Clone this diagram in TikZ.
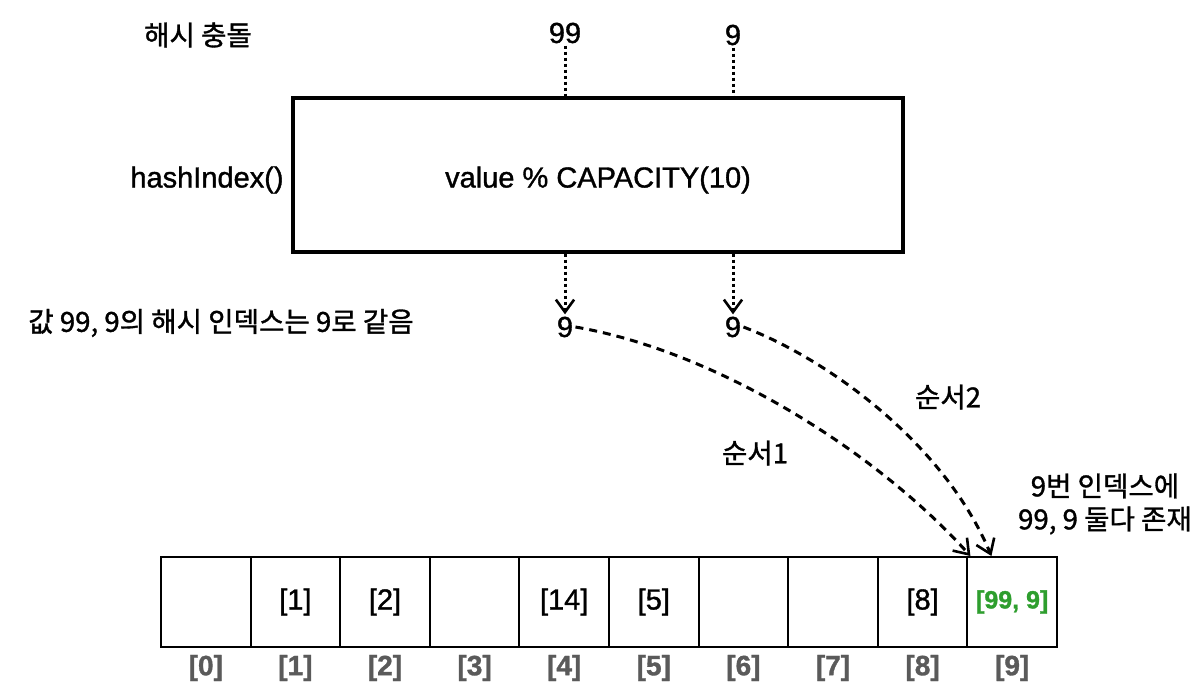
\documentclass[tikz,border=0pt]{standalone}
\usepackage{fontspec}
\setmainfont[FakeBold=1.2]{Liberation Sans}
\newfontfamily\kr[FakeBold=1.2]{Noto Sans CJK KR}
\usetikzlibrary{arrows.meta, positioning, calc}
\definecolor{cgreen}{HTML}{2E9E2E}
\definecolor{cgrey}{HTML}{5A5A5A}
\tikzset{
  every picture/.style={font=\fontsize{14.5}{16}\selectfont},
  lbl/.style={inner sep=1pt, align=center},
  klbl/.style={lbl, font=\fontsize{13.8}{16.5}\selectfont\kr},
  cell/.style={draw, line width=1pt, minimum width=44.8pt, minimum height=45pt, inner sep=0pt},
  idx/.style={font=\fontsize{14}{16}\selectfont\bfseries, text=cgrey},
  dotline/.style={line width=1.5pt, dash pattern=on 1.5pt off 1.5pt},
  dashline/.style={line width=1.5pt, dash pattern=on 4pt off 3pt, -{Straight Barb[length=2.4mm, width=3.4mm, line width=1.3pt]}},
}

\begin{document}
\begin{tikzpicture}[x=0.5pt, y=-0.5pt]
  \useasboundingbox (0,0) rectangle (1204,696);
  % hash function
  \node[klbl] (title) at (198,35) {해시 충돌};
  \node[draw, line width=1.6pt, minimum width=305pt, minimum height=77pt] (hash) at (598,175) {};
  \node[lbl] (expr) at (598,180) {value \% CAPACITY(10)};
  \node[lbl] (fname) at (207,180) {hashIndex()};
  \node[lbl] (k99) at (565,33) {99};
  \node[lbl] (k9) at (733,35) {9};
  \draw[dotline] (k99.south) -- (k99 |- hash.north);
  \draw[dotline] (k9.south) -- (k9 |- hash.north);
  % hash results
  \node[lbl] (h1) at (565,327) {9};
  \node[lbl] (h2) at (733,327) {9};
  \node[klbl] (same) at (221,323) {값 99, 9의 해시 인덱스는 9로 같음};
  \draw[dotline, -{Straight Barb[length=2.2mm, width=3.2mm, line width=1.3pt]}] (h1 |- hash.south) -- (h1.north);
  \draw[dotline, -{Straight Barb[length=2.2mm, width=3.2mm, line width=1.3pt]}] (h2 |- hash.south) -- (h2.north);
  % array
  \foreach \i/\t in {0/{}, 1/[1], 2/[2], 3/{}, 4/[14], 5/[5], 6/{}, 7/{}, 8/[8]} {
    \node[cell] (c\i) at ({205.8+89.6*\i},602) {\t};
    \node[idx] (i\i) at ({205.8+89.6*\i},668) {[\i]};
  }
  \node[cell, text=cgreen, font=\fontsize{12.5}{14}\selectfont\bfseries] (c9) at ({205.8+89.6*9},602) {[99, 9]};
  \node[idx] (i9) at ({205.8+89.6*9},668) {[9]};
  \coordinate (t1) at ($(c9.north west)+(4,0)$);
  \coordinate (t2) at ($(c9.north west)+(25,0)$);
  \draw[dashline] (h1.east) .. controls (720,352) and (880,455) .. (t1);
  \draw[dashline] (h2.east) .. controls (830,360) and (945,445) .. (t2);
  \node[klbl] (ord1) at (755,453) {순서1};
  \node[klbl] (ord2) at (948,397) {순서2};
  \node[klbl] (both) at (1105,504) {9번 인덱스에\\99, 9 둘다 존재};
\end{tikzpicture}
\end{document}
